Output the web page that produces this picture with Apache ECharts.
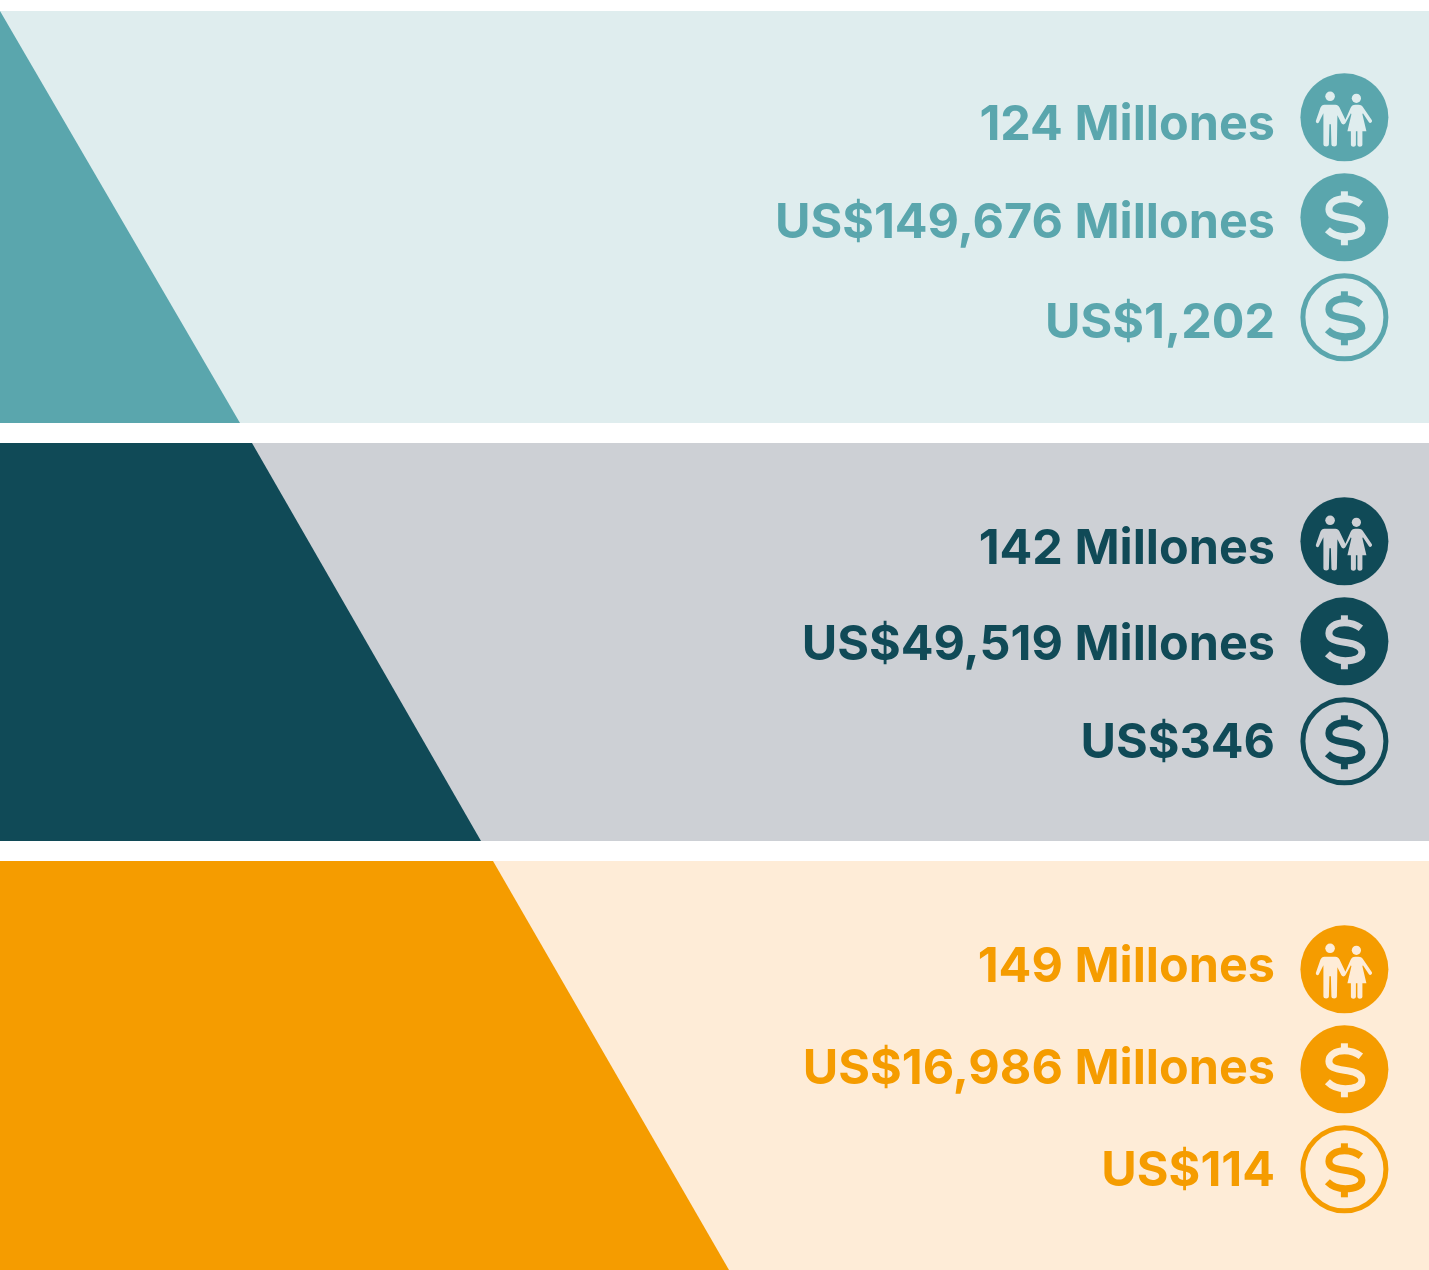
<!DOCTYPE html>
<html>
<head>
<meta charset="utf-8">
<title>Población, PIB e ingreso</title>
<style>
    html, body { margin: 0; padding: 0; background: #fff; }
    #chart { width: 1429px; height: 1270px; }
</style>
<script src="https://cdn.jsdelivr.net/npm/echarts@6/dist/echarts.min.js"></script>
</head>
<body>
<div id="chart"></div>
<script>
// values printed in each band
var population = [124, 142, 149];
var gdp = [149676, 49519, 16986];
var perCapita = [1202, 346, 114];

// band extent and wedge edge in axis units
var bandStart = [11, 443, 861];
var bandEnd = [423, 841, 1270];
var wedgeStart = [0, 252, 493];
var wedgeEnd = [240, 481, 729];

// styles
var darkColors = ['#5AA6AD', '#104A57', '#F59C00'];
var lightColors = ['#DFEDEE', '#CDD0D5', '#FEECD7'];

// row positions, measured from the band top
var iconOffsets = [[106.3, 206.3, 306.3], [98.3, 198.3, 298.3], [108.3, 208.3, 308.3]];
var textOffsets = [[114, 212, 312], [106, 202, 300], [106, 208, 310]];
var ICON_X = 1344.4;
var TEXT_X = 1275;

var DOLLAR = 'M16.5 -13C12 -16.5 6 -18.5 0 -18.5C-9.5 -18.5 -15.5 -14 -15.5 -8C-15.5 -2 -10 -0.5 0 1C11 2.5 17.5 5 17.5 11C17.5 17 10 19.5 1 19.5C-6 19.5 -12.5 17 -17 12.5';
var PEOPLE = 'M-28.5 3.5L-24 -9.5C-23 -11.5 -22 -12.5 -20 -12.5L-9 -12.5C-7 -12.5 -6 -11.5 -5 -10L1 2.5L6 -9C7 -11.5 8.5 -12.5 11 -12.5L14 -12.5C16.5 -12.5 18 -11.5 19 -9.5L27.5 3C28.5 5 25.5 6.5 24.5 5L18.5 -4L18 -3L22 14L18 14L18 27.5C18 30 13 30 13 27.5L13 14L11.5 14L11.5 27.5C11.5 30 6.5 30 6.5 27.5L6.5 14L3 14L7 -3L6.5 -4L1 6C0 7.5 -2 7.5 -3 6L-7 -2L-7.5 27C-7.5 30 -13 30 -13 27L-13.5 7L-15 7L-15.5 27C-15.5 30 -21 30 -21 27L-21 -4L-25.5 5C-26.5 7 -29 5.5 -28.5 3.5Z';

function formatMoney(v) {
    return 'US$' + v.toLocaleString('en-US');
}

function renderBand(params, api) {
    var i = api.value(0);
    var a = api.coord([0, api.value(1)]);
    var b = api.coord([1429, api.value(2)]);
    var c = api.coord([api.value(3), api.value(1)]);
    var d = api.coord([api.value(4), api.value(2)]);
    return {
        type: 'group',
        silent: true,
        children: [{
            type: 'rect',
            shape: { x: a[0], y: a[1], width: b[0] - a[0], height: b[1] - a[1] },
            style: { fill: lightColors[i] }
        }, {
            type: 'polygon',
            shape: { points: [a, c, d, [a[0], b[1]]] },
            style: { fill: darkColors[i] }
        }]
    };
}

function iconCircle(color, hollow) {
    return {
        type: 'circle',
        shape: { cx: 0, cy: 0, r: hollow ? 41.5 : 44 },
        style: hollow ? { fill: 'none', stroke: color, lineWidth: 5 } : { fill: color }
    };
}

function dollarMark(color) {
    return [{
        type: 'path',
        shape: { pathData: DOLLAR },
        style: { fill: 'none', stroke: color, lineWidth: 7 }
    }, {
        type: 'rect',
        shape: { x: -3.5, y: -26, width: 7, height: 6 },
        style: { fill: color }
    }, {
        type: 'rect',
        shape: { x: -3.5, y: 21, width: 7, height: 7 },
        style: { fill: color }
    }];
}

function renderRow(params, api) {
    var i = api.value(0);
    var row = api.value(1);
    var iconPos = api.coord([ICON_X, bandStart[i] + iconOffsets[i][row]]);
    var textPos = api.coord([TEXT_X, bandStart[i] + textOffsets[i][row]]);
    var dark = darkColors[i];
    var light = lightColors[i];
    var children;
    if (row === 0) {
        children = [iconCircle(dark, false), {
            type: 'path',
            shape: { pathData: PEOPLE },
            style: { fill: light }
        }, {
            type: 'circle',
            shape: { cx: -14.3, cy: -21, r: 4.8 },
            style: { fill: light }
        }, {
            type: 'circle',
            shape: { cx: 12, cy: -19, r: 4.6 },
            style: { fill: light }
        }];
    } else if (row === 1) {
        children = [iconCircle(dark, false)].concat(dollarMark(light));
    } else {
        children = [iconCircle(dark, true)].concat(dollarMark(dark));
    }
    return {
        type: 'group',
        silent: true,
        children: [{
            type: 'group',
            x: iconPos[0],
            y: iconPos[1],
            children: children
        }, {
            type: 'text',
            x: textPos[0],
            y: textPos[1],
            style: {
                text: api.value(2),
                fill: dark,
                font: '700 48.5px Inter',
                align: 'right',
                verticalAlign: 'middle'
            }
        }]
    };
}

var bandData = [];
var rowData = [];
population.forEach(function (p, i) {
    bandData.push([i, bandStart[i], bandEnd[i], wedgeStart[i], wedgeEnd[i]]);
    rowData.push([i, 0, p + ' Millones']);
    rowData.push([i, 1, formatMoney(gdp[i]) + ' Millones']);
    rowData.push([i, 2, formatMoney(perCapita[i])]);
});

var myChart = echarts.init(document.querySelector('#chart'));
myChart.setOption({
    animation: false,
    backgroundColor: '#fff',
    grid: { left: 0, right: 0, top: 0, bottom: 0 },
    xAxis: { type: 'value', min: 0, max: 1429, show: false },
    yAxis: { type: 'value', min: 0, max: 1270, inverse: true, show: false },
    series: [{
        type: 'custom',
        renderItem: renderBand,
        data: bandData,
        encode: { x: [3, 4], y: [1, 2] },
        silent: true
    }, {
        type: 'custom',
        renderItem: renderRow,
        data: rowData,
        silent: true,
        z: 3
    }]
});
</script>
</body>
</html>
